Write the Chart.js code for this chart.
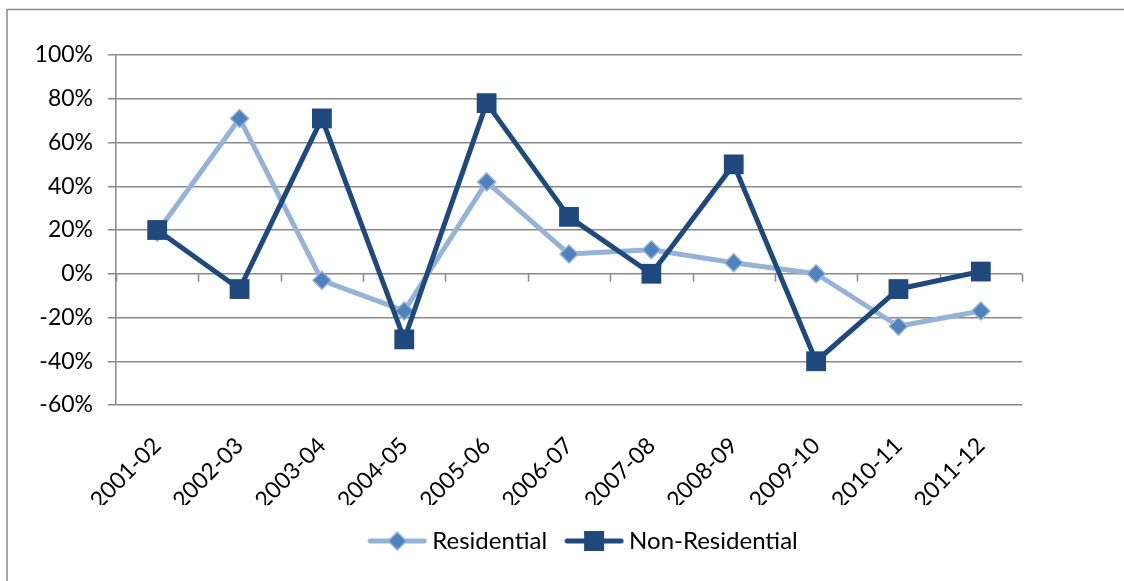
<!DOCTYPE html>
<html>
<head>
<meta charset="utf-8">
<script src="https://cdn.jsdelivr.net/npm/chart.js@4/dist/chart.umd.min.js"></script>
<style>
html,body{margin:0;padding:0;background:#fff;}
#wrap{position:absolute;left:0;top:0;width:1124px;height:581px;}
</style>
</head>
<body>
<div id="wrap"><canvas id="c" width="1124" height="581"></canvas></div>
<script>
const categories = ['2001-02','2002-03','2003-04','2004-05','2005-06','2006-07','2007-08','2008-09','2009-10','2010-11','2011-12'];
const residential = [19, 71, -3, -17, 42, 9, 11, 5, 0, -24, -17];
const nonResidential = [20, -7, 71, -30, 78, 26, 0, 50, -40, -7, 1];
const yMin = -60, yMax = 100, yStep = 20;

const LIGHT = '#95B3D7', MID = '#4F81BD', DARK = '#1F497D', GRID = '#898989';
const FONT = 'Lato';

function legendImg(kind){
  const cv = document.createElement('canvas');
  cv.width = 60; cv.height = 24;
  const g = cv.getContext('2d');
  g.lineCap = 'round';
  g.lineWidth = 5;
  g.strokeStyle = kind === 'res' ? LIGHT : DARK;
  g.beginPath(); g.moveTo(3, 12); g.lineTo(57, 12); g.stroke();
  if (kind === 'res') {
    g.beginPath(); g.moveTo(30, 3); g.lineTo(39, 12); g.lineTo(30, 21); g.lineTo(21, 12); g.closePath();
    g.fillStyle = MID; g.fill(); g.lineWidth = 1.5; g.strokeStyle = LIGHT; g.stroke();
  } else {
    g.fillStyle = DARK; g.fillRect(20, 2, 20, 20);
  }
  return cv;
}
const legendImgs = [legendImg('res'), legendImg('non')];

const decor = {
  id: 'decor',
  afterLayout(chart){
    if (chart.legend) { chart.legend.left += 24; chart.legend.right += 24; }
  },
  beforeDraw(chart){
    const ctx = chart.ctx;
    ctx.save();
    ctx.strokeStyle = GRID; ctx.lineWidth = 1.5;
    ctx.strokeRect(7, 9.5, 1300, 800);
    ctx.restore();
  },
  beforeDatasetsDraw(chart){
    const ctx = chart.ctx, xs = chart.scales.x, ys = chart.scales.y;
    const y0 = ys.getPixelForValue(0);
    const n = categories.length;
    const step = (xs.getPixelForValue(1) - xs.getPixelForValue(0));
    ctx.save();
    ctx.strokeStyle = GRID; ctx.lineWidth = 1.5;
    for (let i = 0; i <= n; i++) {
      const x = Math.round(xs.getPixelForValue(0) - step/2 + i*step) + 0.5;
      ctx.beginPath(); ctx.moveTo(x, y0); ctx.lineTo(x, y0 + 8); ctx.stroke();
    }
    ctx.restore();
  }
};

new Chart(document.getElementById('c'), {
  type: 'line',
  data: {
    labels: categories,
    datasets: [
      {
        label: 'Residential', data: residential,
        borderColor: LIGHT, borderWidth: 5, borderJoinStyle: 'round', borderCapStyle: 'round',
        pointStyle: 'rectRot', pointRadius: 9, pointHoverRadius: 9,
        pointBackgroundColor: MID, pointBorderColor: LIGHT, pointBorderWidth: 1.5,
        tension: 0, fill: false, order: 2
      },
      {
        label: 'Non-Residential', data: nonResidential,
        borderColor: DARK, borderWidth: 5, borderJoinStyle: 'round', borderCapStyle: 'round',
        pointStyle: 'rect', pointRadius: 14, pointHoverRadius: 14,
        pointBackgroundColor: DARK, pointBorderColor: DARK, pointBorderWidth: 0,
        tension: 0, fill: false, order: 1
      }
    ]
  },
  options: {
    responsive: false,
    animation: false,
    events: [],
    layout: { padding: { left: 0, right: 0, top: 55, bottom: 18 } },
    scales: {
      x: {
        offset: true,
        grid: { display: false },
        border: { display: false },
        ticks: { color: '#000', font: { family: FONT, size: 23 }, minRotation: 45, maxRotation: 45, padding: 19, autoSkip: false },
        afterFit(s){ s.height = 100; }
      },
      y: {
        min: yMin, max: yMax,
        ticks: { stepSize: yStep, color: '#000', font: { family: FONT, size: 23 }, padding: 15, callback: v => v + '%' },
        grid: { color: GRID, lineWidth: 1.5, tickLength: 8, drawTicks: true },
        border: { display: true, color: GRID, width: 1.5 },
        afterFit(s){ s.width = 116; }
      },
      y2: {
        position: 'right', display: true,
        grid: { display: false }, border: { display: false }, ticks: { display: false },
        afterFit(s){ s.width = 102; }
      }
    },
    plugins: {
      tooltip: { enabled: false },
      legend: {
        position: 'bottom',
        labels: {
          usePointStyle: true, pointStyleWidth: 46, boxHeight: 20,
          padding: 24, color: '#000', font: { family: FONT, size: 24 },
          generateLabels(chart){
            const items = Chart.defaults.plugins.legend.labels.generateLabels(chart);
            items.sort((a, b) => a.datasetIndex - b.datasetIndex);
            items.forEach(it => { it.pointStyle = legendImgs[it.datasetIndex]; });
            return items;
          }
        }
      }
    }
  },
  plugins: [decor]
});
</script>
</body>
</html>
